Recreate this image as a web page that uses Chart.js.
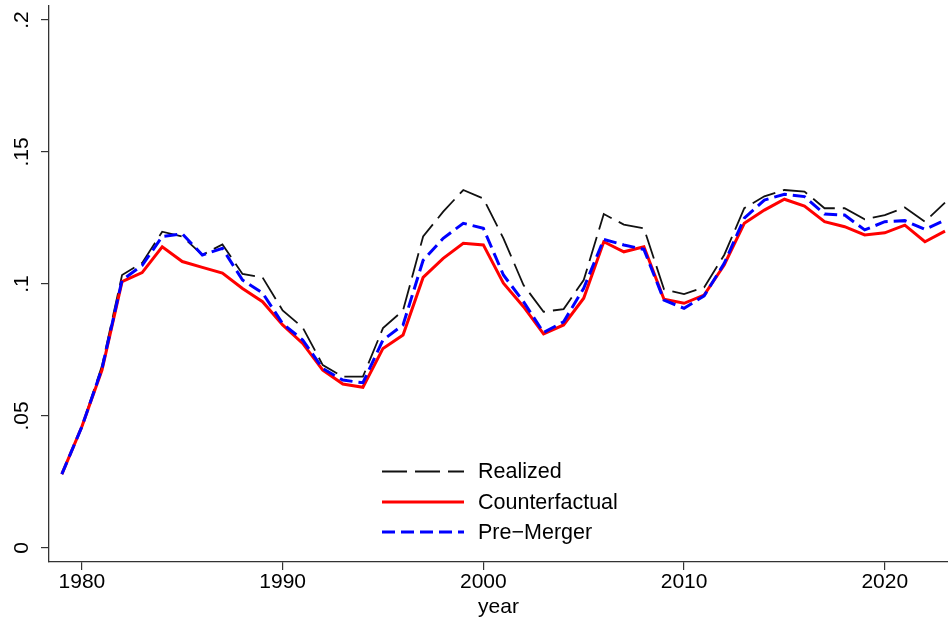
<!DOCTYPE html>
<html>
<head>
<meta charset="utf-8">
<script src="https://cdn.jsdelivr.net/npm/chart.js@4/dist/chart.umd.min.js"></script>
<style>
  body { margin: 0; background: #fff; }
  #wrap { width: 948px; height: 622px; position: relative; }
</style>
</head>
<body>
<div id="wrap"><canvas id="chart"></canvas></div>
<script>
const years = [];
for (let y = 1979; y <= 2023; y++) years.push(y);

const realized = [
  0.028, 0.046, 0.069, 0.1034, 0.108, 0.1198, 0.118, 0.111, 0.115, 0.1038,
  0.1025, 0.090, 0.0835, 0.0693, 0.0649, 0.0649, 0.0833, 0.090, 0.118, 0.1274,
  0.1356, 0.1324, 0.1173, 0.0996, 0.0895, 0.0905, 0.1015, 0.1265, 0.1225, 0.1211,
  0.098, 0.0962, 0.0987, 0.111, 0.1287, 0.1332, 0.1356, 0.135, 0.1287, 0.1287,
  0.1245, 0.1261, 0.129, 0.1236, 0.1308
];
const counterfactual = [
  0.028, 0.046, 0.0674, 0.1009, 0.1043, 0.1141, 0.1085, 0.1063, 0.1041, 0.0983,
  0.0933, 0.0845, 0.0775, 0.0674, 0.0621, 0.0609, 0.0756, 0.0807, 0.1025, 0.1097,
  0.1154, 0.1148, 0.1003, 0.0914, 0.0811, 0.0845, 0.0946, 0.116, 0.1122, 0.1141,
  0.0942, 0.0927, 0.0958, 0.1072, 0.123, 0.128, 0.1321, 0.1295, 0.1236, 0.1217,
  0.1186, 0.1194, 0.1223, 0.116, 0.120
];
const preMerger = [
  0.028, 0.046, 0.068, 0.1015, 0.107, 0.118, 0.119, 0.111, 0.1135, 0.1015,
  0.0966, 0.085, 0.0788, 0.068, 0.0636, 0.0626, 0.0788, 0.0845, 0.109, 0.1173,
  0.123, 0.1211, 0.1034, 0.0933, 0.0816, 0.0857, 0.0984, 0.1169, 0.1148, 0.1131,
  0.0939, 0.0908, 0.0955, 0.1078, 0.1249, 0.1318, 0.134, 0.1331, 0.1265, 0.1261,
  0.1205, 0.1236, 0.124, 0.1207, 0.1242
];

const xTicks = [1980, 1990, 2000, 2010, 2020];
const yTicks = [0, 0.05, 0.1, 0.15, 0.2];
const yTickLabels = ["0", ".05", ".1", ".15", ".2"];
const seriesNames = ["Realized", "Counterfactual", "Pre\u2212Merger"];

const FONT = "'Liberation Sans', Arial, sans-serif";

function pts(vals) {
  return years.map((y, i) => ({ x: y, y: vals[i] }));
}

const styles = [
  { color: "#111", width: 1.8, dash: [25, 8] },
  { color: "#ff0000", width: 3, dash: [] },
  { color: "#0000ff", width: 3, dash: [13, 6] }
];

// y labels are drawn rotated, Stata style
const yLabelPlugin = {
  id: "yLabels",
  afterDraw(chart) {
    const ctx = chart.ctx;
    const ys = chart.scales.y;
    ctx.save();
    ctx.font = "21px " + FONT;
    ctx.fillStyle = "#000";
    ctx.textAlign = "center";
    ctx.textBaseline = "middle";
    yTicks.forEach((v, i) => {
      const py = ys.getPixelForValue(v);
      ctx.save();
      ctx.translate(22, py);
      ctx.rotate(-Math.PI / 2);
      ctx.fillText(yTickLabels[i], 0, 0);
      ctx.restore();
    });
    ctx.restore();
  }
};

const legendPlugin = {
  id: "stataLegend",
  afterDraw(chart) {
    const ctx = chart.ctx;
    const rows = [471.5, 502, 532];
    ctx.save();
    ctx.font = "21.5px " + FONT;
    ctx.textBaseline = "middle";
    ctx.textAlign = "left";
    seriesNames.forEach((name, i) => {
      const s = styles[i];
      ctx.strokeStyle = s.color;
      ctx.lineWidth = s.width;
      ctx.setLineDash(s.dash);
      ctx.beginPath();
      ctx.moveTo(382, rows[i]);
      ctx.lineTo(464, rows[i]);
      ctx.stroke();
      ctx.setLineDash([]);
      ctx.fillStyle = "#000";
      ctx.fillText(name, 478, rows[i] + 1);
    });
    ctx.restore();
  }
};

const datasets = [realized, counterfactual, preMerger].map((vals, i) => ({
  label: seriesNames[i],
  data: pts(vals),
  borderColor: styles[i].color,
  borderWidth: styles[i].width,
  borderDash: styles[i].dash,
  pointRadius: 0,
  tension: 0,
  fill: false,
  order: 2 - i
}));

new Chart(document.getElementById("chart"), {
  type: "line",
  data: { datasets },
  options: {
    responsive: true,
    maintainAspectRatio: false,
    animation: false,
    layout: { padding: { top: 6, right: 0, left: 0, bottom: 0 } },
    plugins: {
      legend: { display: false },
      tooltip: { enabled: false }
    },
    scales: {
      x: {
        type: "linear",
        min: 1978.36,
        max: 2023.15,
        afterBuildTicks(scale) {
          scale.ticks = xTicks.map(v => ({ value: v }));
        },
        afterFit(scale) { scale.height = 60; },
        grid: { drawOnChartArea: false, drawTicks: true, tickLength: 8, color: "#333", lineWidth: 1.2 },
        border: { display: true, color: "#333", width: 1.3 },
        ticks: {
          font: { family: FONT, size: 21 },
          color: "#000",
          padding: 0,
          maxRotation: 0,
          callback: v => String(v)
        },
        title: {
          display: true,
          text: "year",
          font: { family: FONT, size: 21 },
          color: "#000",
          padding: { top: 0, bottom: 2 }
        }
      },
      y: {
        min: -0.0053,
        max: 0.2053,
        afterBuildTicks(scale) {
          scale.ticks = yTicks.map(v => ({ value: v }));
        },
        afterFit(scale) { scale.width = 49; },
        grid: { drawOnChartArea: false, drawTicks: true, tickLength: 8, color: "#333", lineWidth: 1.2 },
        border: { display: true, color: "#333", width: 1.3 },
        ticks: { display: false }
      }
    }
  },
  plugins: [yLabelPlugin, legendPlugin]
});
</script>
</body>
</html>
